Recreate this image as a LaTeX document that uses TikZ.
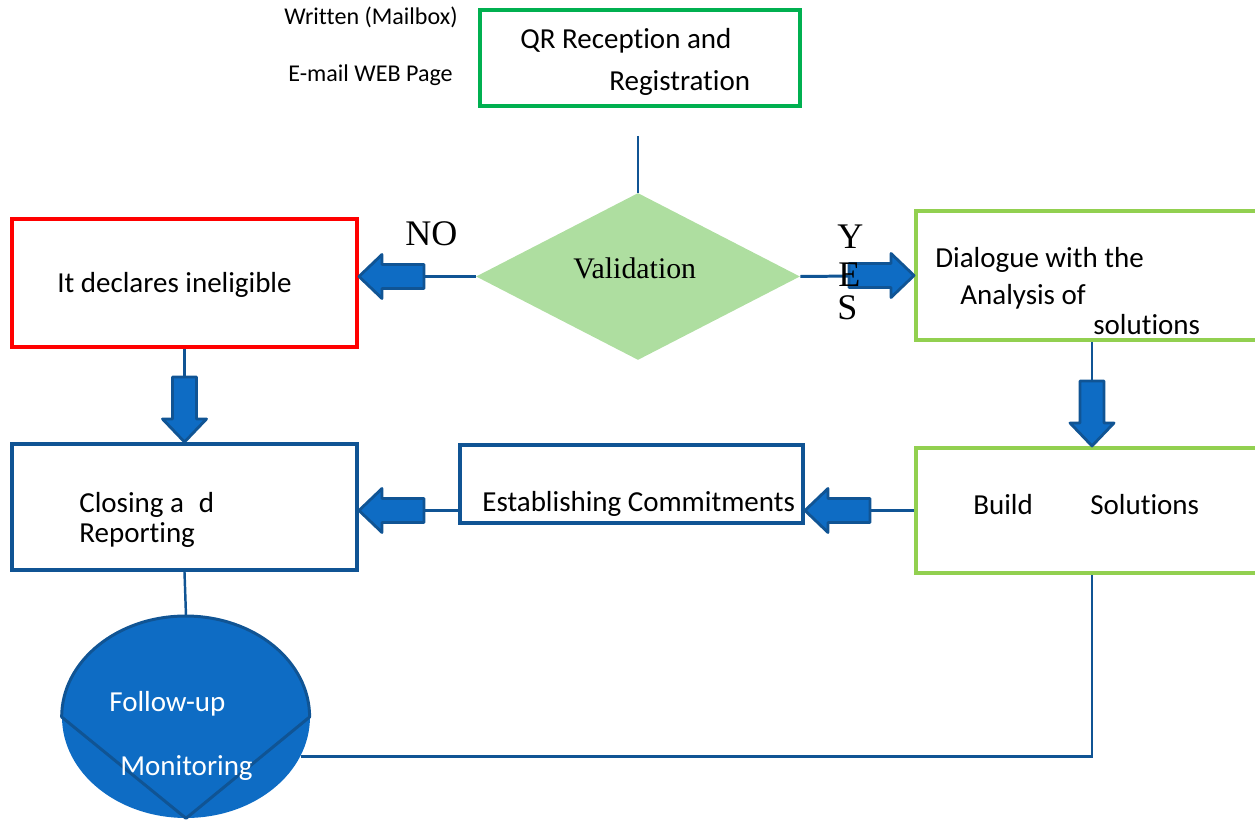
\documentclass[tikz,border=0pt]{standalone}
\usepackage{fontspec}
\setmainfont[Ligatures={NoCommon}]{Carlito}
\newfontfamily\serifx{Liberation Serif}
\usetikzlibrary{shapes.geometric}
\definecolor{qrgreen}{RGB}{0,176,80}
\definecolor{boxred}{RGB}{255,0,0}
\definecolor{dblue}{RGB}{16,84,148}
\definecolor{lgreen}{RGB}{146,208,80}
\definecolor{dfill}{RGB}{174,222,160}
\definecolor{afill}{RGB}{14,108,196}
\begin{document}
\begin{tikzpicture}[x=0.02cm,y=-0.02cm,
 box/.style={draw, line width=2.3pt, inner sep=0, rectangle},
 conn/.style={draw=dblue, line width=1.4pt},
 txt/.style={anchor=base west, inner sep=0, font=\fontsize{16.5}{19}\selectfont},
 small/.style={anchor=base west, inner sep=0, font=\fontsize{13.7}{16}\selectfont},
 serif/.style={anchor=base west, inner sep=0, font=\serifx\fontsize{20.5}{24}\selectfont},
 pics/barrow/.style={code={\draw[fill=afill, draw=dblue, line width=1.6pt, line join=round] (0,0) -- (-23,22) -- (-23,12) -- (-65,12) -- (-65,-12) -- (-23,-12) -- (-23,-22) -- cycle;}}
]
\useasboundingbox (0,0) rectangle (1255,820);
\clip (0,0) rectangle (1255,820);

% boxes
\node[box, draw=qrgreen, minimum width=6.4cm, minimum height=1.92cm] (qr) at (640,58) {};
\node[box, draw=boxred, minimum width=6.9cm, minimum height=2.56cm] (red) at (184.5,283) {};
\node[box, draw=dblue, minimum width=6.9cm, minimum height=2.52cm] (clo) at (184.5,507) {};
\node[box, draw=dblue, minimum width=6.86cm, minimum height=1.56cm] (est) at (631.5,484) {};
\node[box, draw=lgreen, minimum width=7.04cm, minimum height=2.58cm] (dia) at (1092,275.5) {};
\node[box, draw=lgreen, minimum width=7.04cm, minimum height=2.5cm] (bld) at (1092,510.5) {};
\node[diamond, fill=dfill, minimum width=6.48cm, minimum height=3.34cm, inner sep=0] (val) at (638,276.5) {};
\node[ellipse, fill=afill, minimum width=4.96cm, minimum height=4.04cm, inner sep=0] (ell) at (186,717) {};
\draw[draw=dblue, line width=1.7pt, line join=round] (ell.west) arc[start angle=180, end angle=0, x radius=2.48cm, y radius=2.02cm] -- (ell.south) -- cycle;

% connectors
\coordinate (qrl) at (638,136);
\draw[conn] (qrl) -- (val.north);
\draw[conn, line width=1.7pt] (val.west) -- (red.east |- val.west);
\pic[rotate=180] at (red.east |- val.west) {barrow};
\draw[conn, line width=1.7pt] (val.east) -- (dia.west);
\pic at (dia.west) {barrow};
\draw[conn] (red.south) -- (clo.north);
\pic[rotate=-90] at (clo.north) {barrow};
\draw[conn] (dia.south) -- (bld.north);
\pic[rotate=-90] at (bld.north) {barrow};
\draw[conn] (bld.west) -- (est.east |- bld.west);
\pic[rotate=180] at (est.east |- bld.west) {barrow};
\draw[conn] (est.west |- bld.west) -- (clo.east |- bld.west);
\pic[rotate=180] at (clo.east |- bld.west) {barrow};
\draw[conn] (clo.south) -- (ell.north);
\draw[conn] (ell.-19) -| (bld.south);

% texts
\node[small] (w1) at (284,25) {Written (Mailbox)};
\node[small] (w2) at (288,82) {E-mail WEB Page};
\node[txt] (q1) at (520,49) {QR Reception and};
\node[txt] (q2) at (609,91) {Registration};
\node[txt] (r1) at (57,293) {It declares ineligible};
\node[txt] (c1) at (79,513) {Closing a\hspace{8.5pt}d};
\node[txt] (c2) at (79,543) {Reporting};
\node[txt] (e1) at (482,512) {Establishing Commitments};
\node[txt] (d1) at (935,268) {Dialogue with the};
\node[txt] (d2) at (960,305) {Analysis of};
\node[txt] (d3) at (1093,335) {solutions};
\node[txt] (b1) at (973,515) {Build};
\node[txt] (b2) at (1090,515) {Solutions};
\node[txt, text=white] (f1) at (109,712) {Follow-up};
\node[txt, text=white] (f2) at (120,775) {Monitoring};
\node[serif, font=\serifx\fontsize{17}{20}\selectfont] (vt) at (573,279) {Validation};
\node[serif] (no) at (405,246) {NO};
\node[serif] (y1) at (837,249) {Y};
\node[serif] (y2) at (838,287) {E};
\node[serif] (y3) at (837,320) {S};
\end{tikzpicture}
\end{document}
